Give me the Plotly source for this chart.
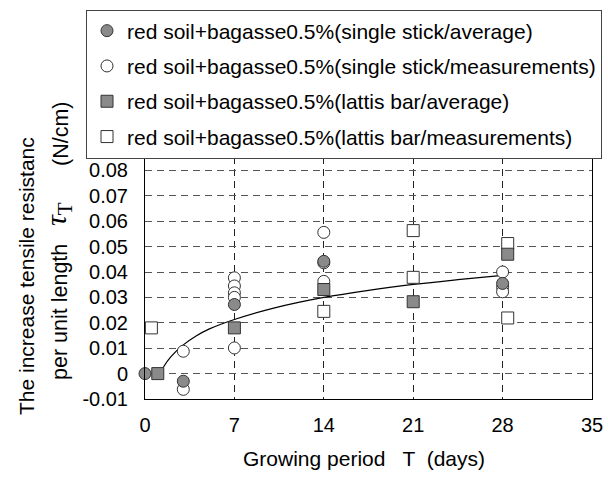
import plotly.graph_objects as go

# ---------------- data ----------------
ss_avg_x = [0, 3, 7, 14, 28]
ss_avg_y = [0.0, -0.003, 0.0272, 0.0442, 0.0355]

ss_meas_x = [3, 3, 7, 7, 7, 7, 7, 14, 14, 14, 28, 28, 28]
ss_meas_y = [0.0088, -0.0062, 0.0377, 0.0345, 0.0318, 0.0300, 0.0101,
             0.0556, 0.0436, 0.0363, 0.0400, 0.0340, 0.0322]

lat_avg_x = [1, 7, 14, 21, 28.4]
lat_avg_y = [0.0, 0.018, 0.0331, 0.0283, 0.0470]

lat_meas_x = [0.5, 14, 21, 21, 28.4, 28.4]
lat_meas_y = [0.018, 0.0245, 0.0563, 0.0379, 0.0512, 0.0219]

trend_x = [1, 1.5, 2, 3, 4, 5, 7, 10, 14, 17.5, 21, 24.5, 28]
trend_y = [-0.002, 0.003, 0.0065, 0.0113, 0.0148, 0.0175, 0.0213, 0.0257,
           0.0300, 0.0328, 0.0351, 0.0370, 0.0387]

x_ticks = [0, 7, 14, 21, 28, 35]
y_ticks = [-0.01, 0, 0.01, 0.02, 0.03, 0.04, 0.05, 0.06, 0.07, 0.08]
y_ticktext = ["-0.01", "0", "0.01", "0.02", "0.03", "0.04", "0.05", "0.06", "0.07", "0.08"]

names = [
    "red soil+bagasse0.5%(single stick/average)",
    "red soil+bagasse0.5%(single stick/measurements)",
    "red soil+bagasse0.5%(lattis bar/average)",
    "red soil+bagasse0.5%(lattis bar/measurements)",
]

FONT = "Liberation Sans, Arial, sans-serif"
GRAY = "#8a8a8a"
EDGE = "#333333"

# ---------------- layout geometry ----------------
W, H = 608, 480
L, R, T, B = 145, 16, 145, 81
PW, PH = W - L - R, H - T - B


def px(xp):
    return (xp - L) / PW


def py(yp):
    return (H - B - yp) / PH


fig = go.Figure()

fig.add_trace(go.Scatter(x=trend_x, y=trend_y, mode="lines",
                         line=dict(color="black", width=1.2, shape="spline"),
                         showlegend=False, hoverinfo="skip"))

fig.add_trace(go.Scatter(x=ss_meas_x, y=ss_meas_y, mode="markers", name=names[1],
                         legendrank=2, legendgroup="b", cliponaxis=False,
                         marker=dict(symbol="circle", size=12, color="white",
                                     line=dict(color=EDGE, width=1))))
fig.add_trace(go.Scatter(x=ss_avg_x, y=ss_avg_y, mode="markers", name=names[0],
                         legendrank=1, legendgroup="a", cliponaxis=False,
                         marker=dict(symbol="circle", size=12, color=GRAY,
                                     line=dict(color=EDGE, width=1))))
fig.add_trace(go.Scatter(x=lat_meas_x, y=lat_meas_y, mode="markers", name=names[3],
                         legendrank=4, legendgroup="d", cliponaxis=False,
                         marker=dict(symbol="square", size=12, color="white",
                                     line=dict(color=EDGE, width=1))))
fig.add_trace(go.Scatter(x=lat_avg_x, y=lat_avg_y, mode="markers", name=names[2],
                         legendrank=3, legendgroup="c", cliponaxis=False,
                         marker=dict(symbol="square", size=12, color=GRAY,
                                     line=dict(color=EDGE, width=1))))

fig.update_layout(
    width=W, height=H,
    margin=dict(l=L, r=R, t=T, b=B, autoexpand=False),
    paper_bgcolor="white", plot_bgcolor="white",
    font=dict(family=FONT, size=20, color="black"),
    legend=dict(xref="container", yref="container",
                x=86 / W, y=1 - 9.5 / H, xanchor="left", yanchor="top",
                bgcolor="white", bordercolor="#444444", borderwidth=1,
                font=dict(size=21), tracegroupgap=5, itemwidth=30),
    xaxis=dict(range=[0, 35], tickvals=x_ticks, showgrid=True,
               gridcolor="#222222", griddash="7px,5px", gridwidth=1,
               showline=True, linecolor="black", linewidth=1, mirror=True,
               zeroline=False, ticks="", tickfont=dict(size=20),
               ticklabelstandoff=8, automargin=False),
    yaxis=dict(range=[-0.01, 0.09], tickvals=y_ticks, ticktext=y_ticktext,
               showgrid=True, gridcolor="#555555", griddash="7px,5px", gridwidth=1,
               showline=True, linecolor="black", linewidth=1, mirror=True,
               zeroline=False, ticks="", tickfont=dict(size=20),
               ticklabelstandoff=12, automargin=False),
    showlegend=True,
)

annos = [
    dict(text="Growing period   T  (days)", x=px(364), y=py(458),
         font=dict(size=21)),
    dict(text="The increase tensile resistanc", x=px(26), y=py(276),
         textangle=-90, font=dict(size=21)),
    dict(text="per unit length", x=px(60), y=py(312),
         textangle=-90, font=dict(size=21.5)),
    dict(text="<i>τ</i><sub>T</sub>", x=px(58), y=py(214),
         textangle=-90, font=dict(size=30, family="Liberation Serif"),
         bgcolor="white", borderpad=0),
    dict(text="(N/cm)", x=px(61), y=py(134),
         textangle=-90, font=dict(size=21.5)),
]
for a in annos:
    fig.add_annotation(xref="paper", yref="paper", showarrow=False,
                       xanchor="center", yanchor="middle", **a)

fig.write_html("out.html", config={"displayModeBar": False},
               post_script="document.body.style.margin='0px';")
